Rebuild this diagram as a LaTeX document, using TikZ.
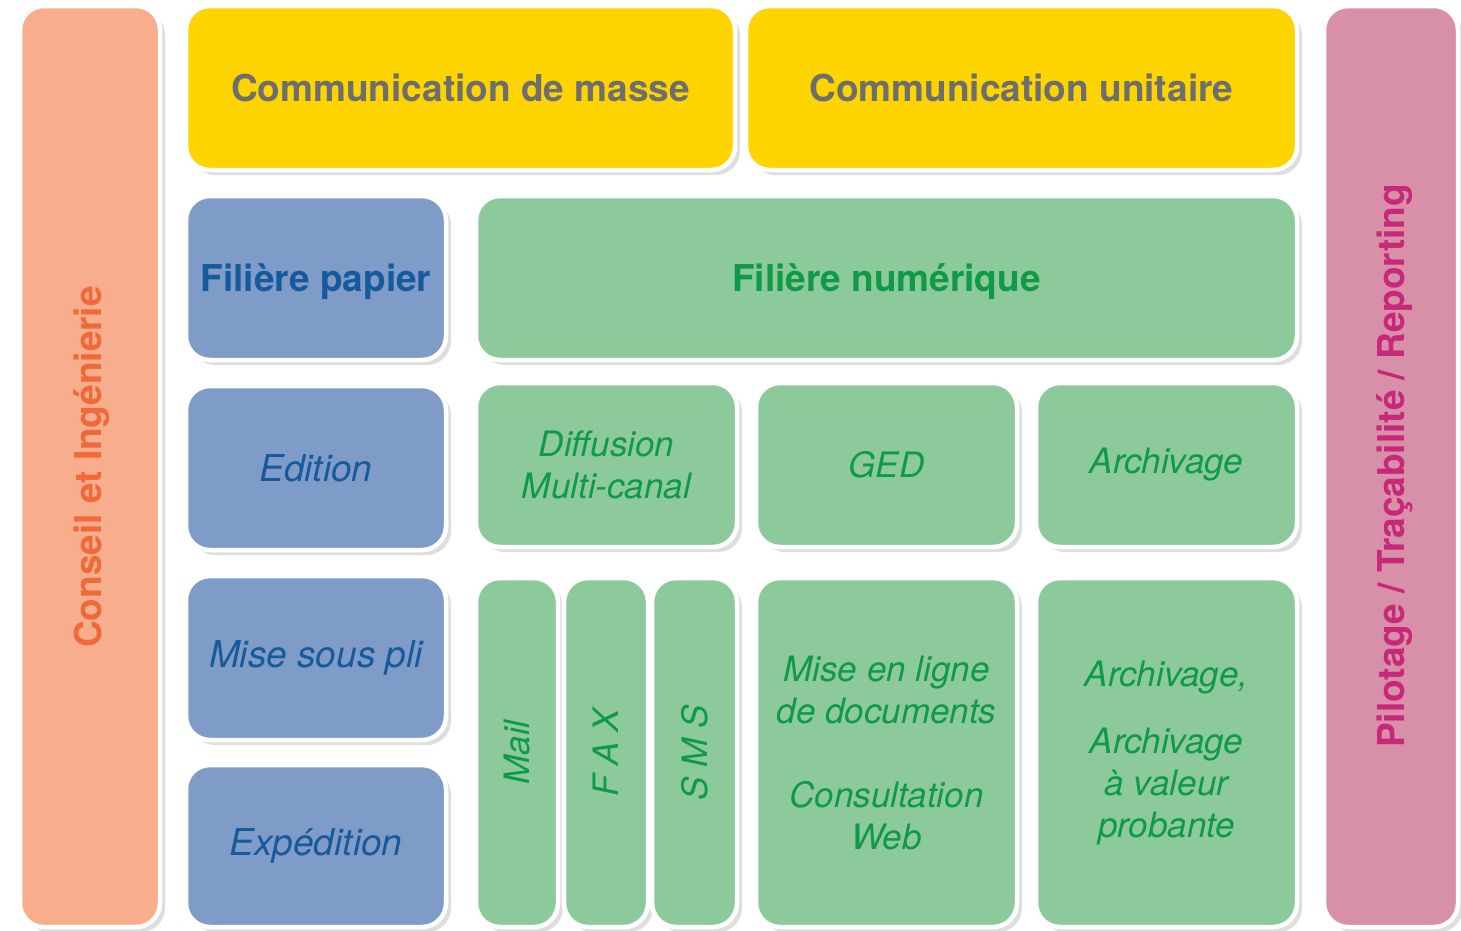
\documentclass[tikz,border=0pt]{standalone}
\usepackage{fontspec}
\setmainfont{TeX Gyre Heros}
\usetikzlibrary{shadows}

\definecolor{peach}{HTML}{F8AD8C}
\definecolor{peachtext}{HTML}{F0693A}
\definecolor{jaune}{HTML}{FDD300}
\definecolor{grisTexte}{HTML}{6D6E70}
\definecolor{bleu}{HTML}{7F9BC8}
\definecolor{bleuTexte}{HTML}{175A9C}
\definecolor{vert}{HTML}{8DCA9B}
\definecolor{vertTexte}{HTML}{0E9A48}
\definecolor{rose}{HTML}{D890A8}
\definecolor{roseTexte}{HTML}{C7287A}

\begin{document}
\begin{tikzpicture}[
		x=1pt, y=-1pt,
		bloc/.style={
			draw=white,
			line width=4.5pt,
			rounded corners=24pt,
			inner sep=0pt,
			align=center,
			drop shadow={shadow xshift=5pt, shadow yshift=-5pt, fill=black, opacity=0.13}
		},
		titre/.style={font=\fontsize{37}{44}\selectfont\bfseries},
		etape/.style={font=\fontsize{37}{44}\selectfont\itshape},
		canal/.style={font=\fontsize{35}{42}\selectfont\itshape}
	]
	\useasboundingbox[fill=white] (0,0) rectangle (1461,930);

	% colonnes laterales
	\node[bloc, fill=peach, text=peachtext, minimum width=140pt, minimum height=921pt] (conseil) at (90,466.5) {};
	\node[titre, text=peachtext, rotate=90] (conseiltxt) at (92,467) {Conseil et Ingénierie};
	\node[bloc, fill=rose, minimum width=134pt, minimum height=921pt] (pilotage) at (1391,466.5) {};
	\node[titre, text=roseTexte, rotate=90] (pilotagetxt) at (1395,466) {Pilotage / Traçabilité / Reporting};

	% communication
	\node[bloc, titre, fill=jaune, text=grisTexte, minimum width=549pt, minimum height=164pt] (masse) at (460.5,88) {Communication de masse};
	\node[bloc, titre, fill=jaune, text=grisTexte, minimum width=551pt, minimum height=164pt] (unitaire) at (1021.5,88) {Communication unitaire};

	% filiere papier
	\node[bloc, titre, text depth=0pt, fill=bleu, text=bleuTexte, minimum width=260pt, minimum height=164pt] (papier) at (316,278) {Filière papier};
	\node[bloc, etape, fill=bleu, text=bleuTexte, minimum width=260pt, minimum height=164pt] (edition) at (316,468) {Edition};
	\node[bloc, etape, fill=bleu, text=bleuTexte, minimum width=260pt, minimum height=164pt] (pli) at (316,658) {Mise sous pli};
	\node[bloc, etape, fill=bleu, text=bleuTexte, minimum width=260pt, minimum height=162pt] (expedition) at (316,846) {Expédition};

	% filiere numerique
	\node[bloc, titre, text depth=0pt, fill=vert, text=vertTexte, minimum width=821pt, minimum height=164pt] (numerique) at (886.5,278) {Filière numérique};
	\node[bloc, canal, fill=vert, text=vertTexte, minimum width=261pt, minimum height=164pt] (diffusion) at (606.5,465) {Diffusion\\Multi-canal};
	\node[bloc, canal, fill=vert, text=vertTexte, minimum width=261pt, minimum height=164pt] (ged) at (886.5,465) {GED};
	\node[bloc, canal, fill=vert, text=vertTexte, minimum width=261pt, minimum height=164pt] (archivage) at (1166.5,465) {Archivage};

	\node[bloc, fill=vert, minimum width=82pt, minimum height=349pt] (mail) at (517,752.5) {};
	\node[bloc, fill=vert, minimum width=84pt, minimum height=349pt] (fax) at (606,752.5) {};
	\node[bloc, fill=vert, minimum width=85pt, minimum height=349pt] (sms) at (694.5,752.5) {};
	\node[canal, text=vertTexte, rotate=90] (mailtxt) at (mail) {Mail};
	\node[canal, text=vertTexte, rotate=90] (faxtxt) at (fax) {F A X};
	\node[canal, text=vertTexte, rotate=90] (smstxt) at (sms) {S M S};

	\node[bloc, canal, fill=vert, text=vertTexte, minimum width=261pt, minimum height=349pt] (enligne) at (886.5,752.5) {Mise en ligne\\de documents\\[42pt]Consultation\\Web};
	\node[bloc, canal, fill=vert, text=vertTexte, minimum width=261pt, minimum height=349pt] (probante) at (1166.5,752.5) {Archivage,\\[25pt]Archivage\\à valeur\\probante};
\end{tikzpicture}
\end{document}
